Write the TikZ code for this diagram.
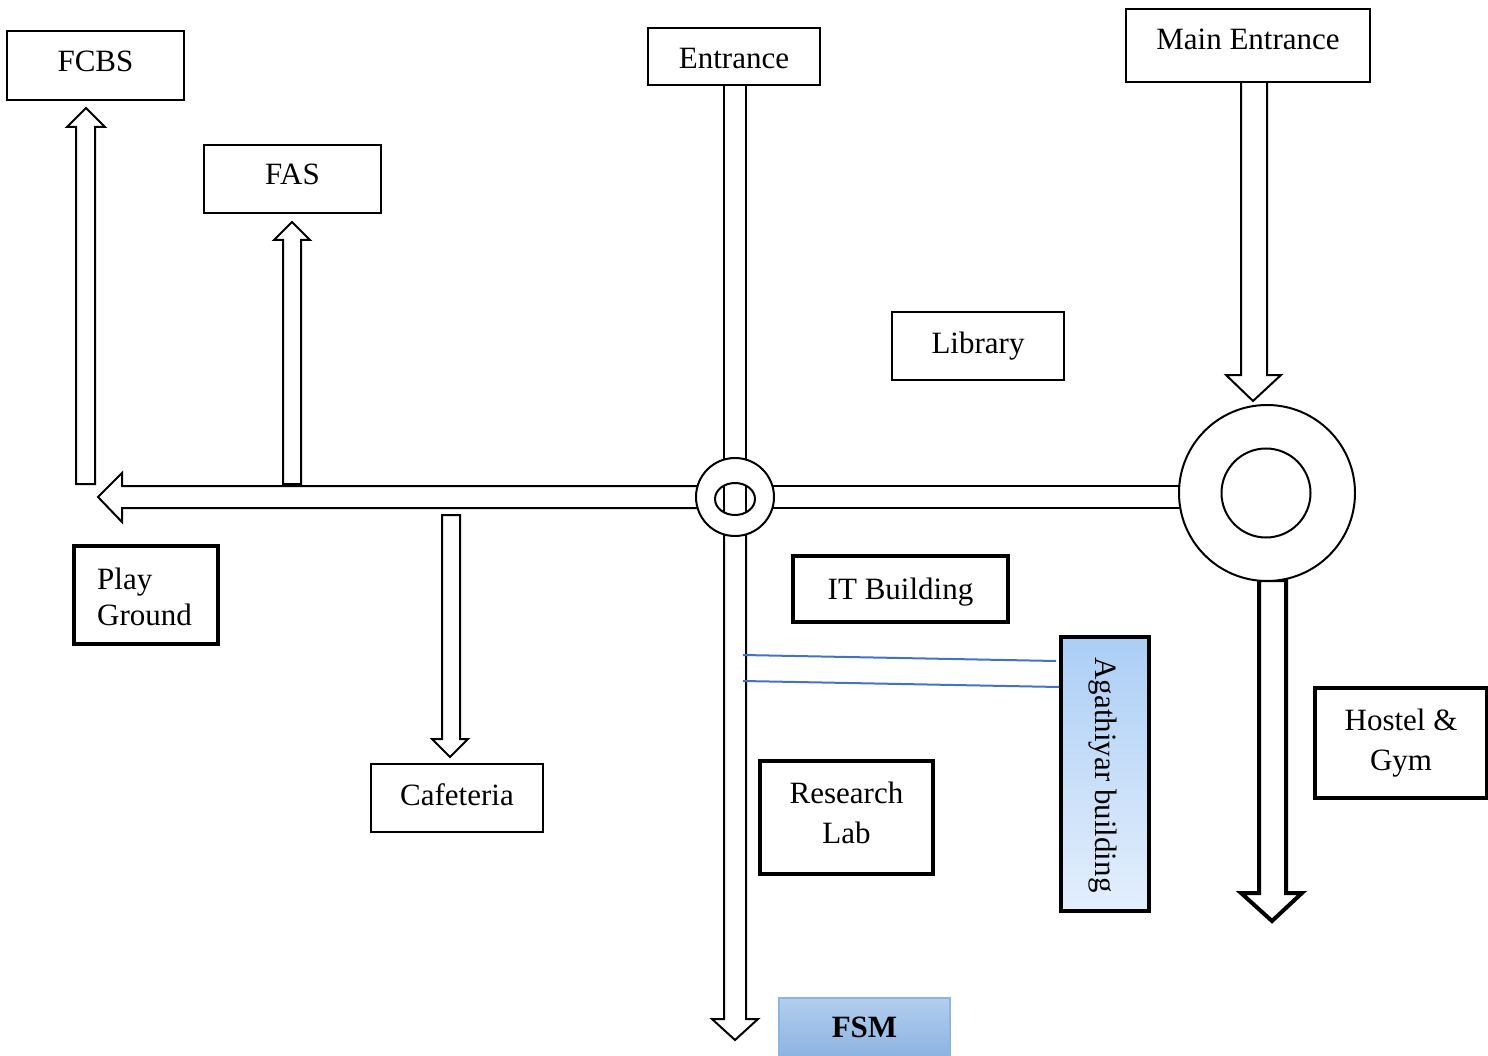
\documentclass[tikz,border=0pt]{standalone}
\usepackage{fontspec}
\setmainfont{Liberation Serif}
\definecolor{fsmtop}{RGB}{178,206,238}
\definecolor{fsmbot}{RGB}{142,180,226}
\definecolor{fsmborder}{RGB}{142,180,227}
\definecolor{agtop}{RGB}{172,206,245}
\definecolor{agbot}{RGB}{228,239,253}
\definecolor{blueline}{RGB}{68,114,196}
\begin{document}
\begin{tikzpicture}[x=1pt,y=-1pt,
  lab/.style={font=\fontsize{31}{40}\selectfont,inner sep=0pt,anchor=base},
  box/.style={draw,line width=2pt,fill=white,inner sep=0pt},
  tbox/.style={draw,line width=4pt,fill=white,inner sep=0pt},
  road/.style={draw,line width=2pt,line join=miter},
  troad/.style={draw,line width=4pt,line join=miter,fill=white},
  barrow/.style={draw,line width=2pt,line join=miter,fill=white},
  ring/.style={circle,draw,line width=2pt,fill=white,inner sep=0pt},
  link/.style={draw=blueline,line width=2pt},
]
\useasboundingbox (0,0) rectangle (1488,1056);

% roads
\draw[road] (724,85) -- (724,460);
\draw[road] (746,85) -- (746,460);
\draw[road] (700,486) -- (122,486) -- (122,473) -- (98,497) -- (122,522) -- (122,508) -- (700,508);
\draw[road] (770,486) -- (1185,486);
\draw[road] (770,508) -- (1185,508);
\draw[road] (724,530) -- (724,1019) -- (712,1019) -- (735,1040) -- (758,1019) -- (746,1019) -- (746,530);
\draw[road] (1241,82) -- (1241,375) -- (1226,375) -- (1253,401) -- (1281,375) -- (1267,375) -- (1267,82);
\draw[troad] (1259,580) -- (1259,893) -- (1241,893) -- (1272,921) -- (1302,893) -- (1286,893) -- (1286,580) -- cycle;

% branch arrows
\draw[barrow] (76,484) -- (76,127) -- (67,127) -- (86,108) -- (105,127) -- (95,127) -- (95,484) -- cycle;
\draw[barrow] (283,484) -- (283,240) -- (274,240) -- (292,222) -- (310,240) -- (301,240) -- (301,484) -- cycle;
\draw[barrow] (442,515) -- (442,739) -- (432,739) -- (450,757) -- (468,739) -- (460,739) -- (460,515) -- cycle;

% roundabouts
\node[ring,minimum size=78pt] (hub) at (735,497) {};
\draw[line width=2pt] (735,499) ellipse [x radius=20, y radius=16];
\begin{scope}
  \clip (735,499) ellipse [x radius=20, y radius=16];
  \draw[line width=2pt] (724,470) -- (724,530);
  \draw[line width=2pt] (746,470) -- (746,530);
\end{scope}
\node[ring,minimum size=176pt] (rb) at (1267,493) {};
\node[ring,minimum size=89pt] (rbin) at (1266,493) {};

% buildings (boxes)
\node[box,minimum width=177pt,minimum height=69pt] (fcbs) at (95.5,65.5) {};
\node[box,minimum width=177pt,minimum height=68pt] (fas) at (292.5,179) {};
\node[box,minimum width=172pt,minimum height=57pt] (entr) at (734,56.5) {};
\node[box,minimum width=244pt,minimum height=73pt] (mainentr) at (1248,45.5) {};
\node[box,minimum width=172pt,minimum height=68pt] (lib) at (978,346) {};
\node[box,minimum width=172pt,minimum height=68pt] (caf) at (457,798) {};
\node[tbox,minimum width=144pt,minimum height=98pt] (play) at (146,595) {};
\node[tbox,minimum width=215pt,minimum height=66pt] (it) at (900.5,589) {};
\node[tbox,minimum width=173pt,minimum height=113pt] (rlab) at (846.5,817.5) {};
\node[tbox,minimum width=172pt,minimum height=110pt] (hostel) at (1401,743) {};
\node[draw,line width=4pt,top color=agtop,bottom color=agbot,minimum width=88pt,minimum height=274pt,inner sep=0pt] (agat) at (1105,774) {};
\node[draw=fsmborder,line width=1.5pt,top color=fsmtop,bottom color=fsmbot,minimum width=171pt,minimum height=57pt,inner sep=0pt] (fsm) at (864.5,1026.5) {};

% building names
\node[lab] (fcbst) at (95.5,72) {FCBS};
\node[lab] (fast) at (292.5,185) {FAS};
\node[lab] (entrt) at (734,69) {Entrance};
\node[lab] (mainentrt) at (1248,50) {Main Entrance};
\node[lab] (libt) at (978,353) {Library};
\node[lab] (caft) at (457,805) {Cafeteria};
\node[lab,anchor=base west] (playt1) at (97,589) {Play};
\node[lab,anchor=base west] (playt2) at (97,625) {Ground};
\node[lab] (itt) at (900.5,599) {IT Building};
\node[lab] (rlabt1) at (846.5,803) {Research};
\node[lab] (rlabt2) at (846.5,843) {Lab};
\node[lab] (hostelt1) at (1401,730) {Hostel \&};
\node[lab] (hostelt2) at (1401,770) {Gym};
\node[lab,anchor=center,rotate=-90] (agatt) at (1103,775) {Agathiyar building};
\node[lab] (fsmt) at (864.5,1037) {\textbf{FSM}};

% links to Agathiyar building
\coordinate (l1) at (743,655);
\coordinate (l2) at (743,681);
\draw[link] (l1) -- (1056,661);
\draw[link] (l2) -- (agat.west |- 0,687);
\end{tikzpicture}
\end{document}
